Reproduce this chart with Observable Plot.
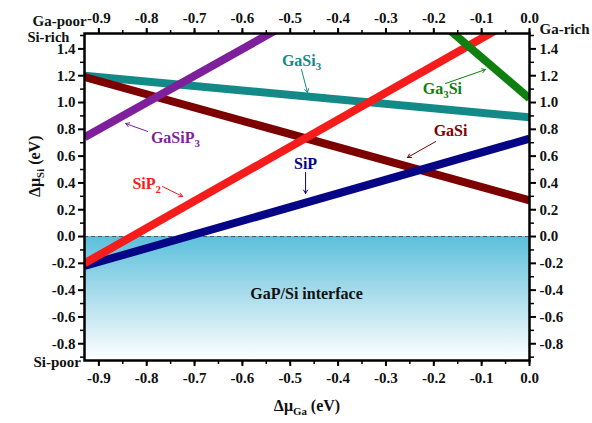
<!DOCTYPE html>
<html>
<head>
<meta charset="utf-8">
<script src="https://cdn.jsdelivr.net/npm/d3@7"></script>
<script src="https://cdn.jsdelivr.net/npm/@observablehq/plot@0.6"></script>
<style>
  html, body { margin: 0; padding: 0; background: #fff; }
  #chart svg, #chart svg text, #chart svg tspan {
    font-family: "Liberation Serif", "Times New Roman", serif !important;
    font-weight: bold;
  }
</style>
</head>
<body>
<div id="chart"></div>
<script>
// ---- data ----
const xDomain = [-0.93, 0];
const yDomain = [-0.925, 1.515];
const xTicks = [-0.9, -0.8, -0.7, -0.6, -0.5, -0.4, -0.3, -0.2, -0.1, 0.0];
const xMinorTicks = [-0.9, -0.85, -0.8, -0.75, -0.7, -0.65, -0.6, -0.55, -0.5, -0.45, -0.4, -0.35, -0.3, -0.25, -0.2, -0.15, -0.1, -0.05, 0.0];
const yTicks = [-0.8, -0.6, -0.4, -0.2, 0.0, 0.2, 0.4, 0.6, 0.8, 1.0, 1.2, 1.4];
const yMinorTicks = [-0.9, -0.7, -0.5, -0.3, -0.1, 0.1, 0.3, 0.5, 0.7, 0.9, 1.1, 1.3, 1.5];

// phase boundary lines: [Δμ_Ga, Δμ_Si]
const lineGaSi3 = [[-0.93, 1.20], [0.0, 0.89]];
const lineGaSi = [[-0.93, 1.19], [0.0, 0.27]];
const lineSiP = [[-0.93, -0.22], [0.0, 0.73]];
const lineSiP2 = [[-0.93, -0.20], [-0.06, 1.56]];
const lineGaSiP3 = [[-0.93, 0.74], [-0.52, 1.56]];
const lineGa3Si = [[-0.17, 1.55], [0.0, 1.03]];

const interfaceRegion = [{x1: -0.93, x2: 0.0, y1: -0.925, y2: 0.0}];

const colors = {
  GaSi3: "#138a87",
  GaSi: "#7d0000",
  SiP: "#050585",
  SiP2: "#f51c1c",
  GaSiP3: "#7e1f9c",
  Ga3Si: "#0f800f"
};

const labels = [
  {text: "GaSi_{3}", x: -0.4765, y: 1.313, color: colors.GaSi3},
  {text: "Ga_{3}Si", x: -0.182, y: 1.104, color: colors.Ga3Si},
  {text: "GaSiP_{3}", x: -0.740, y: 0.739, color: colors.GaSiP3},
  {text: "GaSi", x: -0.165, y: 0.79, color: colors.GaSi},
  {text: "SiP", x: -0.468, y: 0.545, color: colors.SiP},
  {text: "SiP_{2}", x: -0.800, y: 0.396, color: colors.SiP2},
  {text: "GaP/Si interface", x: -0.466, y: -0.425, color: "#111"}
];

const arrows = [
  {x1: -0.4765, y1: 1.246, x2: -0.464, y2: 1.075, color: colors.GaSi3},
  {x1: -0.1755, y1: 1.142, x2: -0.092, y2: 1.246, color: colors.Ga3Si},
  {x1: -0.798, y1: 0.784, x2: -0.844, y2: 0.843, color: colors.GaSiP3},
  {x1: -0.196, y1: 0.709, x2: -0.255, y2: 0.590, color: colors.GaSi},
  {x1: -0.468, y1: 0.478, x2: -0.468, y2: 0.321, color: colors.SiP},
  {x1: -0.767, y1: 0.373, x2: -0.725, y2: 0.299, color: colors.SiP2}
];

const fmt = d => d.toFixed(1);
const serif = "Liberation Serif";
const txt = {fontFamily: serif, fontWeight: "bold", fill: "#111"};

const defsMark = () => {
  const defs = d3.create("svg:defs");
  const g = defs.append("linearGradient")
    .attr("id", "interfaceGrad")
    .attr("x1", 0).attr("y1", 0).attr("x2", 0).attr("y2", 1);
  g.append("stop").attr("offset", "0%").attr("stop-color", "#5bbfdb");
  g.append("stop").attr("offset", "45%").attr("stop-color", "#a6dbeb");
  g.append("stop").attr("offset", "100%").attr("stop-color", "#ffffff");
  return defs.node();
};

const lineMark = (data, color) => Plot.line(data, {
  x: d => d[0], y: d => d[1], stroke: color, strokeWidth: 8, clip: true, strokeLinecap: "butt"
});

const chart = Plot.plot({
  width: 592,
  height: 423,
  marginLeft: 84,
  marginRight: 63,
  marginTop: 33,
  marginBottom: 63,
  style: {fontFamily: serif, fontWeight: "bold", fontSize: "15px", background: "#fff", overflow: "visible"},
  x: {domain: xDomain},
  y: {domain: yDomain},
  marks: [
    defsMark,
    Plot.rect(interfaceRegion, {x1: "x1", x2: "x2", y1: "y1", y2: "y2", fill: "url(#interfaceGrad)"}),
    Plot.ruleY([0], {stroke: "#555", strokeWidth: 1, strokeDasharray: "4,3"}),
    lineMark(lineGaSi3, colors.GaSi3),
    lineMark(lineGaSi, colors.GaSi),
    lineMark(lineSiP, colors.SiP),
    lineMark(lineSiP2, colors.SiP2),
    lineMark(lineGaSiP3, colors.GaSiP3),
    lineMark(lineGa3Si, colors.Ga3Si),
    Plot.frame({stroke: "#000", strokeWidth: 2.5}),
    // axes
    Plot.axisX({anchor: "bottom", ticks: xTicks, tickFormat: fmt, tickSize: 6, tickPadding: 6, strokeWidth: 2, label: null, fontSize: 15, ...txt}),
    Plot.axisX({anchor: "bottom", ticks: xMinorTicks, tickSize: 4, strokeWidth: 1.5, text: null, label: null}),
    Plot.axisX({anchor: "top", ticks: xTicks, tickFormat: fmt, tickSize: 6, tickPadding: 5, strokeWidth: 2, label: null, fontSize: 15, ...txt}),
    Plot.axisX({anchor: "top", ticks: xMinorTicks, tickSize: 4, strokeWidth: 1.5, text: null, label: null}),
    Plot.axisY({anchor: "left", ticks: yTicks, tickFormat: fmt, tickSize: 6, tickPadding: 3, strokeWidth: 2, label: null, fontSize: 15, ...txt}),
    Plot.axisY({anchor: "left", ticks: yMinorTicks, tickSize: 4, strokeWidth: 1.5, text: null, label: null}),
    Plot.axisY({anchor: "right", ticks: yTicks, tickFormat: fmt, tickSize: 6, tickPadding: 4, strokeWidth: 2, label: null, fontSize: 15, ...txt}),
    Plot.axisY({anchor: "right", ticks: yMinorTicks, tickSize: 4, strokeWidth: 1.5, text: null, label: null}),
    // axis titles
    Plot.text(["Δμ_{Si} (eV)"], {frameAnchor: "left", dx: -50, rotate: -90, fontSize: 16, ...txt}),
    Plot.text(["Δμ_{Ga} (eV)"], {frameAnchor: "bottom", dy: 50, fontSize: 16, ...txt}),
    // corner labels
    Plot.text(["Ga-poor"], {frameAnchor: "top-left", dx: -52, dy: -18, fontSize: 15, ...txt}),
    Plot.text(["Si-rich"], {frameAnchor: "top-left", dx: -57, dy: -2, fontSize: 14.5, ...txt}),
    Plot.text(["Si-poor"], {frameAnchor: "bottom-left", dx: -51, dy: 6, fontSize: 15, ...txt}),
    Plot.text(["Ga-rich"], {frameAnchor: "top-right", dx: 10, dy: -10, textAnchor: "start", fontSize: 15, ...txt}),
    // line labels
    Plot.text(labels, {x: "x", y: "y", text: "text", fill: "color", fontSize: 16, fontFamily: serif, fontWeight: "bold"}),
    Plot.arrow(arrows, {x1: "x1", y1: "y1", x2: "x2", y2: "y2", stroke: "color", strokeWidth: 1, headLength: 6})
  ]
});

// render subscripts written as _{...}
d3.select(chart).selectAll("text").each(function() {
  const el = this;
  if (el.querySelector("tspan")) return;
  const s = el.textContent;
  if (!s.includes("_{")) return;
  const parts = s.split(/(_\{[^}]*\})/).filter(p => p.length);
  el.textContent = "";
  let shifted = false;
  for (const p of parts) {
    const t = document.createElementNS("http://www.w3.org/2000/svg", "tspan");
    if (p.startsWith("_{")) {
      t.textContent = p.slice(2, -1);
      t.setAttribute("font-size", "0.68em");
      t.setAttribute("dy", "4");
      shifted = true;
    } else {
      t.textContent = p;
      if (shifted) { t.setAttribute("dy", "-4"); shifted = false; }
    }
    el.appendChild(t);
  }
});

document.getElementById("chart").appendChild(chart);
</script>
</body>
</html>
